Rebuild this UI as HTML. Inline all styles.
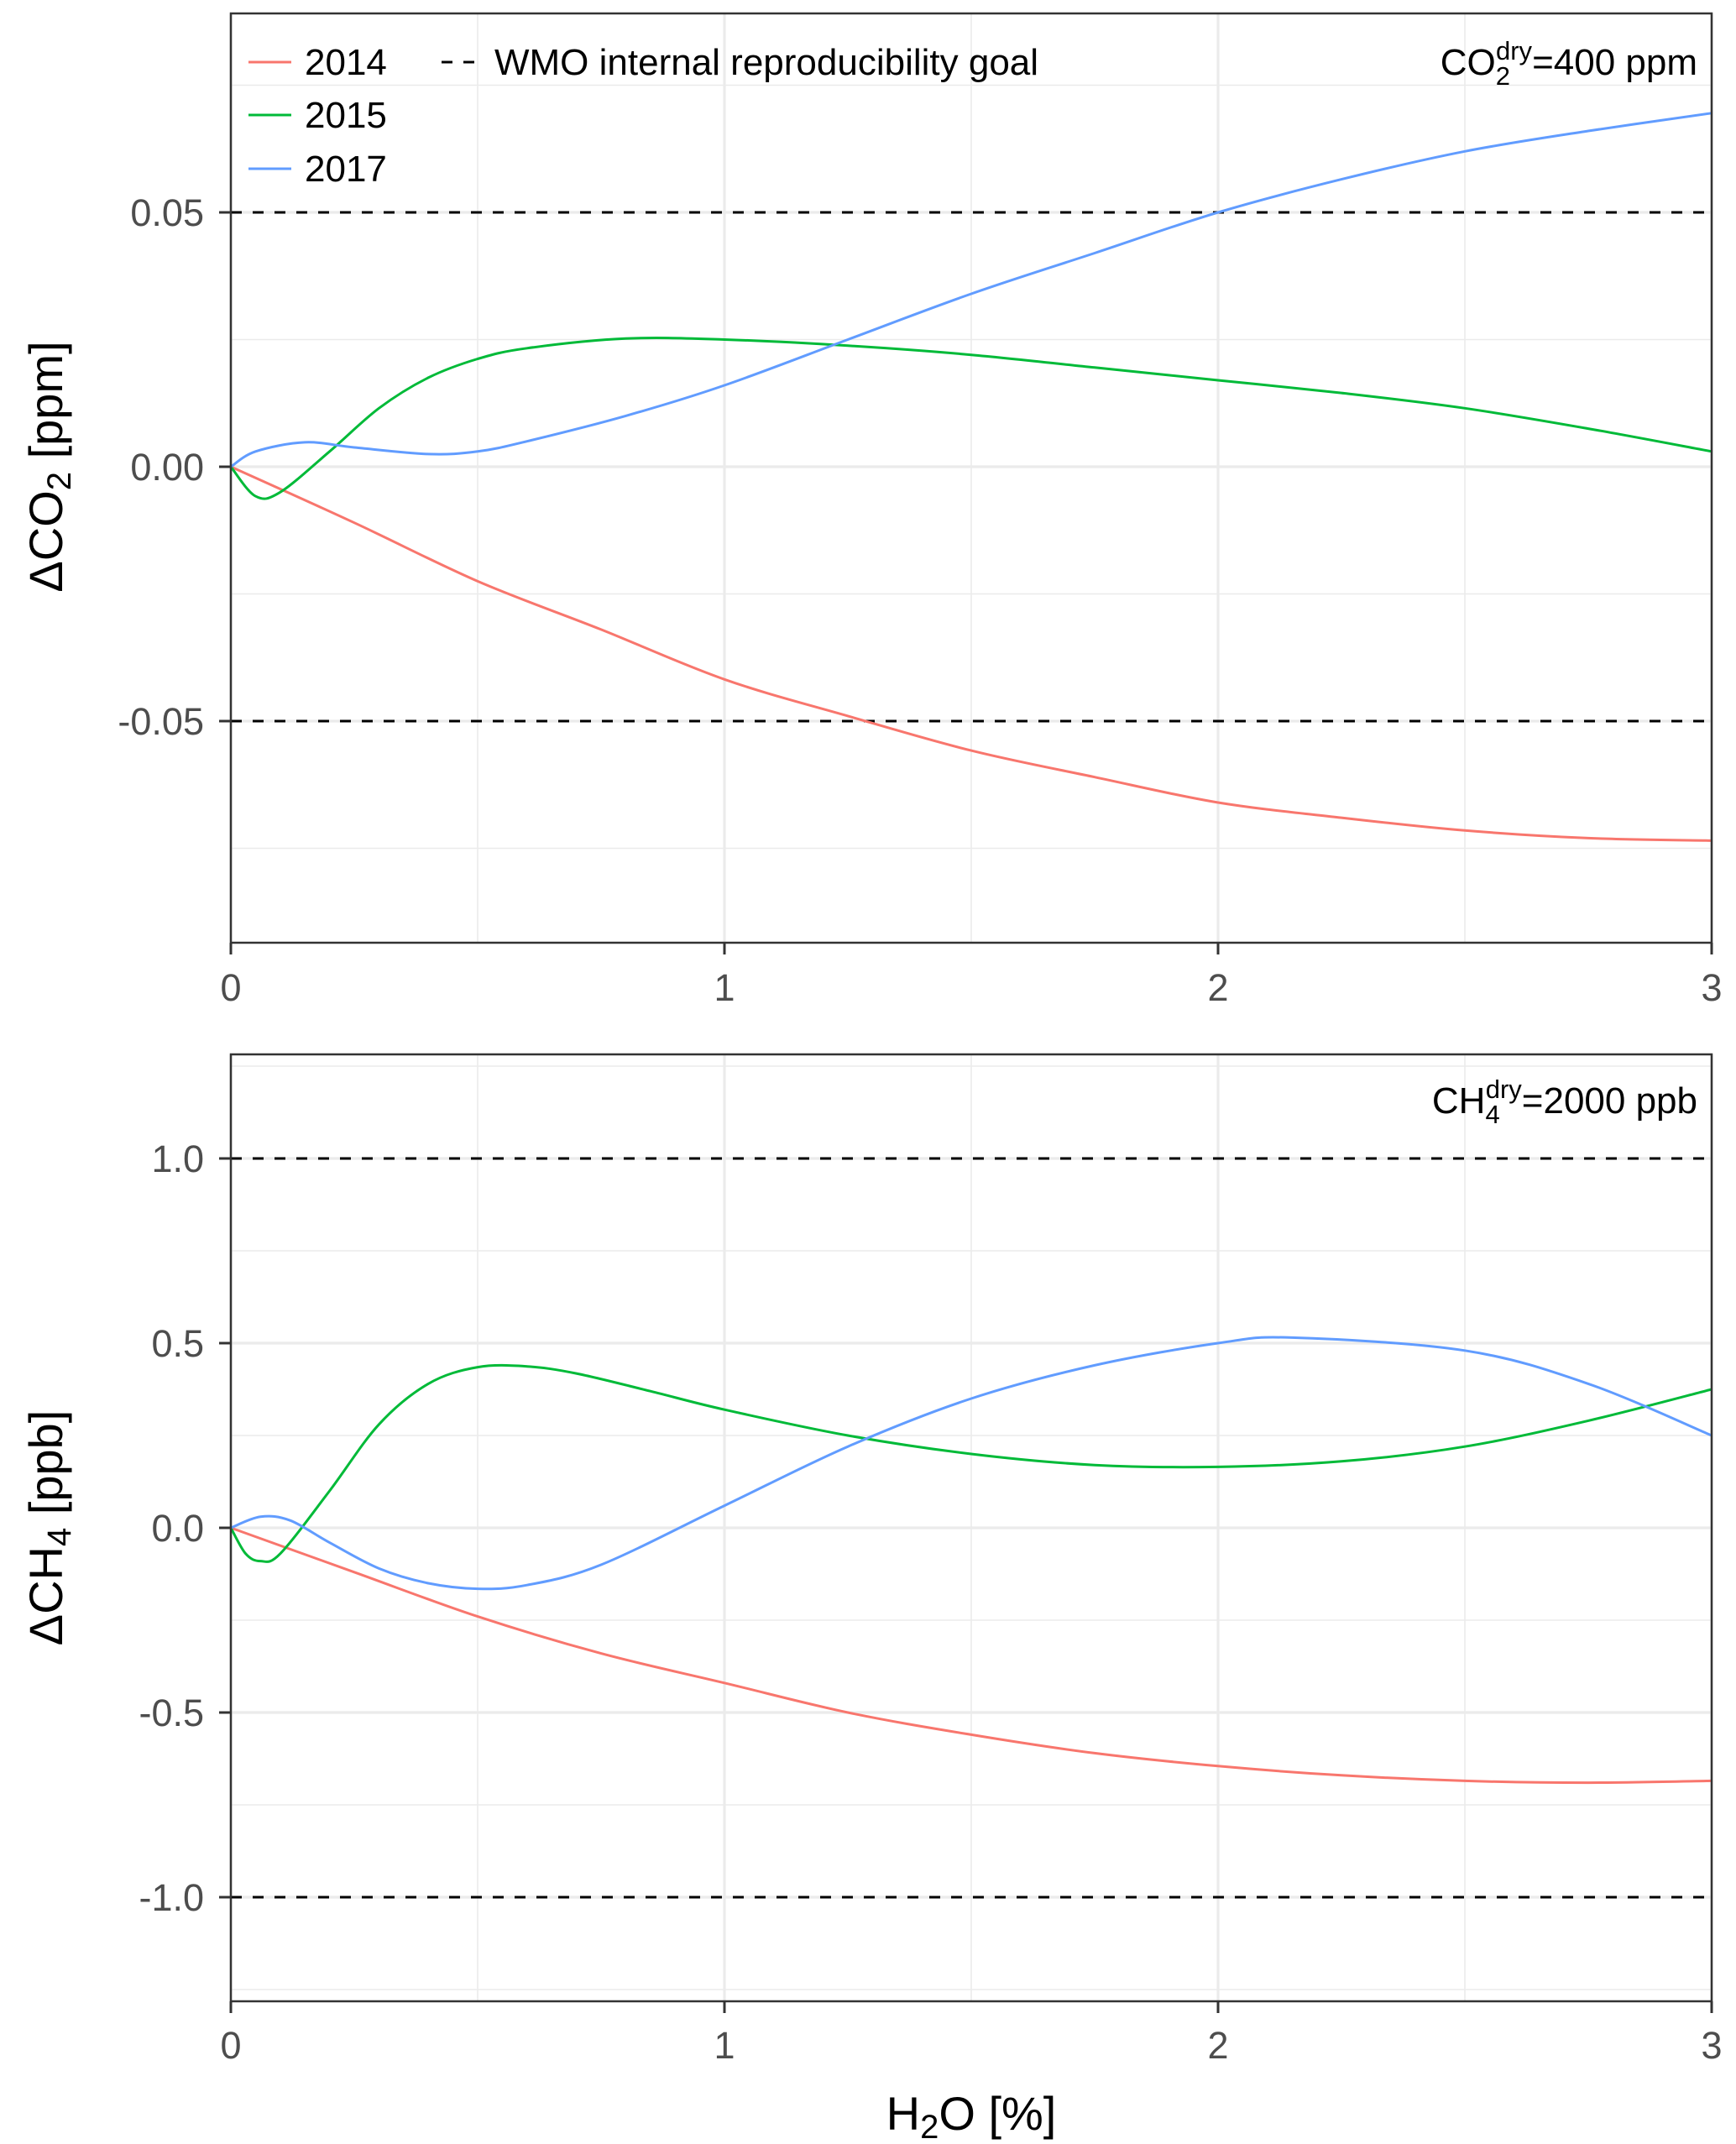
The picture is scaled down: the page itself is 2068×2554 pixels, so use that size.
<!DOCTYPE html>
<html><head><meta charset="utf-8"><style>
body{margin:0;background:#fff}
svg{display:block;font-family:"Liberation Sans",Arial,sans-serif}
</style></head><body>
<svg id="chart" width="2068" height="2554" viewBox="0 0 2068 2554"></svg>
<script>
const xTicks=[0,1,2,3];
const topYTicks=[-0.05,0,0.05];
const topYLabels=["-0.05","0.00","0.05"];
const botYTicks=[-1,-0.5,0,0.5,1];
const botYLabels=["-1.0","-0.5","0.0","0.5","1.0"];
const goalTop=[-0.05,0.05];
const goalBot=[-1,1];
const co2_2014_x=[0,0.25,0.5,0.75,1,1.25,1.5,1.75,2,2.25,2.5,2.75,3];
const co2_2014_y=[0,-0.011,-0.0225,-0.032,-0.0418,-0.049,-0.0558,-0.061,-0.066,-0.069,-0.0715,-0.073,-0.0735];
const co2_2015_x=[0,0.05,0.1,0.2,0.3,0.4,0.5,0.6,0.8,1,1.25,1.5,1.75,2,2.25,2.5,2.75,3];
const co2_2015_y=[0,-0.0058,-0.005,0.003,0.0115,0.0175,0.0212,0.0233,0.0252,0.025,0.0238,0.022,0.0195,0.017,0.0145,0.0115,0.0075,0.003];
const co2_2017_x=[0,0.05,0.15,0.25,0.4,0.5,0.6,0.8,1,1.25,1.5,1.75,2,2.25,2.5,2.75,3];
const co2_2017_y=[0,0.003,0.0048,0.0038,0.0025,0.003,0.005,0.010,0.016,0.025,0.034,0.042,0.050,0.0565,0.062,0.066,0.0695];
const ch4_2014_x=[0,0.25,0.5,0.75,1,1.25,1.5,1.75,2,2.25,2.5,2.75,3];
const ch4_2014_y=[0,-0.12,-0.24,-0.34,-0.42,-0.5,-0.56,-0.61,-0.645,-0.67,-0.685,-0.69,-0.685];
const ch4_2015_x=[0,0.03,0.06,0.1,0.2,0.3,0.4,0.5,0.6,0.7,0.85,1,1.25,1.5,1.75,2,2.25,2.5,2.75,3];
const ch4_2015_y=[0,-0.07,-0.09,-0.07,0.1,0.28,0.39,0.435,0.437,0.418,0.37,0.32,0.25,0.2,0.17,0.165,0.18,0.22,0.29,0.375];
const ch4_2017_x=[0,0.06,0.12,0.2,0.3,0.4,0.5,0.6,0.75,1,1.25,1.5,1.75,2,2.15,2.5,2.75,3];
const ch4_2017_y=[0,0.03,0.02,-0.04,-0.11,-0.15,-0.165,-0.155,-0.1,0.06,0.22,0.35,0.44,0.5,0.515,0.48,0.39,0.25];
const colors={"2014":"#F8766D","2015":"#00BA38","2017":"#619CFF"};

const svg=document.getElementById('chart');
const NS="http://www.w3.org/2000/svg";
function mk(tag,attrs,parent){const e=document.createElementNS(NS,tag);for(const k in attrs)e.setAttribute(k,attrs[k]);(parent||svg).appendChild(e);return e;}
const L=275,R=2039;
const xs=v=>L+(R-L)*v/3;
const panels=[
 {top:16,bot:1123,y0:556,k:(556-253)/0.05,ticks:topYTicks,labels:topYLabels,minor:[-0.075,-0.025,0.025,0.075],goal:goalTop,name:'co2',
  series:[["2014",co2_2014_x,co2_2014_y],["2015",co2_2015_x,co2_2015_y],["2017",co2_2017_x,co2_2017_y]],xlabY:1192},
 {top:1256,bot:2384,y0:1820,k:(1820-1380)/1,ticks:botYTicks,labels:botYLabels,minor:[-1.25,-0.75,-0.25,0.25,0.75,1.25],goal:goalBot,name:'ch4',
  series:[["2014",ch4_2014_x,ch4_2014_y],["2015",ch4_2015_x,ch4_2015_y],["2017",ch4_2017_x,ch4_2017_y]],xlabY:2452}
];
function smooth(pts){let d=`M${pts[0][0]},${pts[0][1]}`;for(let i=0;i<pts.length-1;i++){const p0=pts[i-1]||pts[i],p1=pts[i],p2=pts[i+1],p3=pts[i+2]||p2;
 const c1=[p1[0]+(p2[0]-p0[0])/6,p1[1]+(p2[1]-p0[1])/6],c2=[p2[0]-(p3[0]-p1[0])/6,p2[1]-(p3[1]-p1[1])/6];
 d+=`C${c1[0].toFixed(1)},${c1[1].toFixed(1)} ${c2[0].toFixed(1)},${c2[1].toFixed(1)} ${p2[0].toFixed(1)},${p2[1].toFixed(1)}`;}return d;}
panels.forEach(p=>{
 const ys=v=>p.y0-p.k*v;
 const g=mk('g',{});
 
 
 const gl='#ebebeb';
 p.minor.forEach(v=>{const l=mk('line',{x1:L,x2:R,y1:ys(v),y2:ys(v),stroke:gl,'stroke-width':1.6},g);});
 [0.5,1.5,2.5].forEach(v=>{const l=mk('line',{x1:xs(v),x2:xs(v),y1:p.top,y2:p.bot,stroke:gl,'stroke-width':1.6},g);});
 p.ticks.forEach(v=>{const l=mk('line',{x1:L,x2:R,y1:ys(v),y2:ys(v),stroke:gl,'stroke-width':3.2},g);});
 xTicks.forEach(v=>{const l=mk('line',{x1:xs(v),x2:xs(v),y1:p.top,y2:p.bot,stroke:gl,'stroke-width':3.2},g);});
 p.goal.forEach(v=>{const l=mk('line',{x1:L,x2:R,y1:ys(v),y2:ys(v),stroke:'#000','stroke-width':3,'stroke-dasharray':'13 13'},g);});
 p.series.forEach(s=>{const pts=s[1].map((x,i)=>[xs(x),ys(s[2][i])]);const path=mk('path',{d:smooth(pts),fill:'none',stroke:colors[s[0]],'stroke-width':3},g);});
 const fr=mk('rect',{x:L,y:p.top,width:R-L,height:p.bot-p.top,fill:'none',stroke:'#333','stroke-width':2.5},g);
 p.ticks.forEach((v,i)=>{mk('line',{x1:L-14,x2:L,y1:ys(v),y2:ys(v),stroke:'#333','stroke-width':3},g);
  const t=mk('text',{x:L-32,y:ys(v)+16,'text-anchor':'end','font-size':45,fill:'#4d4d4d'},g);t.textContent=p.labels[i];});
 xTicks.forEach(v=>{mk('line',{x1:xs(v),x2:xs(v),y1:p.bot,y2:p.bot+14,stroke:'#333','stroke-width':3},g);
  const t=mk('text',{x:xs(v),y:p.xlabY,'text-anchor':'middle','font-size':45,fill:'#4d4d4d'},g);t.textContent=v;});
});
</script>
<div style="position:absolute;left:0;top:0;width:2068px;height:2554px;pointer-events:none">
<svg width="2068" height="2554" style="font-family:'Liberation Sans',Arial,sans-serif">
 <g>
  <line x1="296" x2="347" y1="74" y2="74" stroke="#F8766D" stroke-width="3"/>
  <text x="363" y="89" font-size="44">2014</text>
  <line x1="296" x2="347" y1="137" y2="137" stroke="#00BA38" stroke-width="3"/>
  <text x="363" y="152" font-size="44">2015</text>
  <line x1="296" x2="347" y1="201" y2="201" stroke="#619CFF" stroke-width="3"/>
  <text x="363" y="216" font-size="44">2017</text>
  <line x1="526" x2="566" y1="74" y2="74" stroke="#000" stroke-width="3" stroke-dasharray="13 13"/>
  <text x="589" y="89" font-size="44">WMO internal reproducibility goal</text>
 </g>
 <text x="2022" y="89" text-anchor="end" font-size="44">CO<tspan font-size="31" dy="12">2</tspan><tspan font-size="31" dx="-17" dy="-30">dry</tspan><tspan dy="18">=400 ppm</tspan></text>
 <text x="2022" y="1326" text-anchor="end" font-size="44">CH<tspan font-size="31" dy="12">4</tspan><tspan font-size="31" dx="-17" dy="-30">dry</tspan><tspan dy="18">=2000 ppb</tspan></text>
 <text transform="translate(74,556) rotate(-90)" text-anchor="middle" font-size="56">ΔCO<tspan font-size="40" dy="10">2</tspan><tspan dy="-10"> [ppm]</tspan></text>
 <text transform="translate(74,1820) rotate(-90)" text-anchor="middle" font-size="56">ΔCH<tspan font-size="40" dy="10">4</tspan><tspan dy="-10"> [ppb]</tspan></text>
 <text x="1157" y="2537" text-anchor="middle" font-size="56">H<tspan font-size="40" dy="10">2</tspan><tspan dy="-10">O [%]</tspan></text>
</svg></div>
</body></html>
